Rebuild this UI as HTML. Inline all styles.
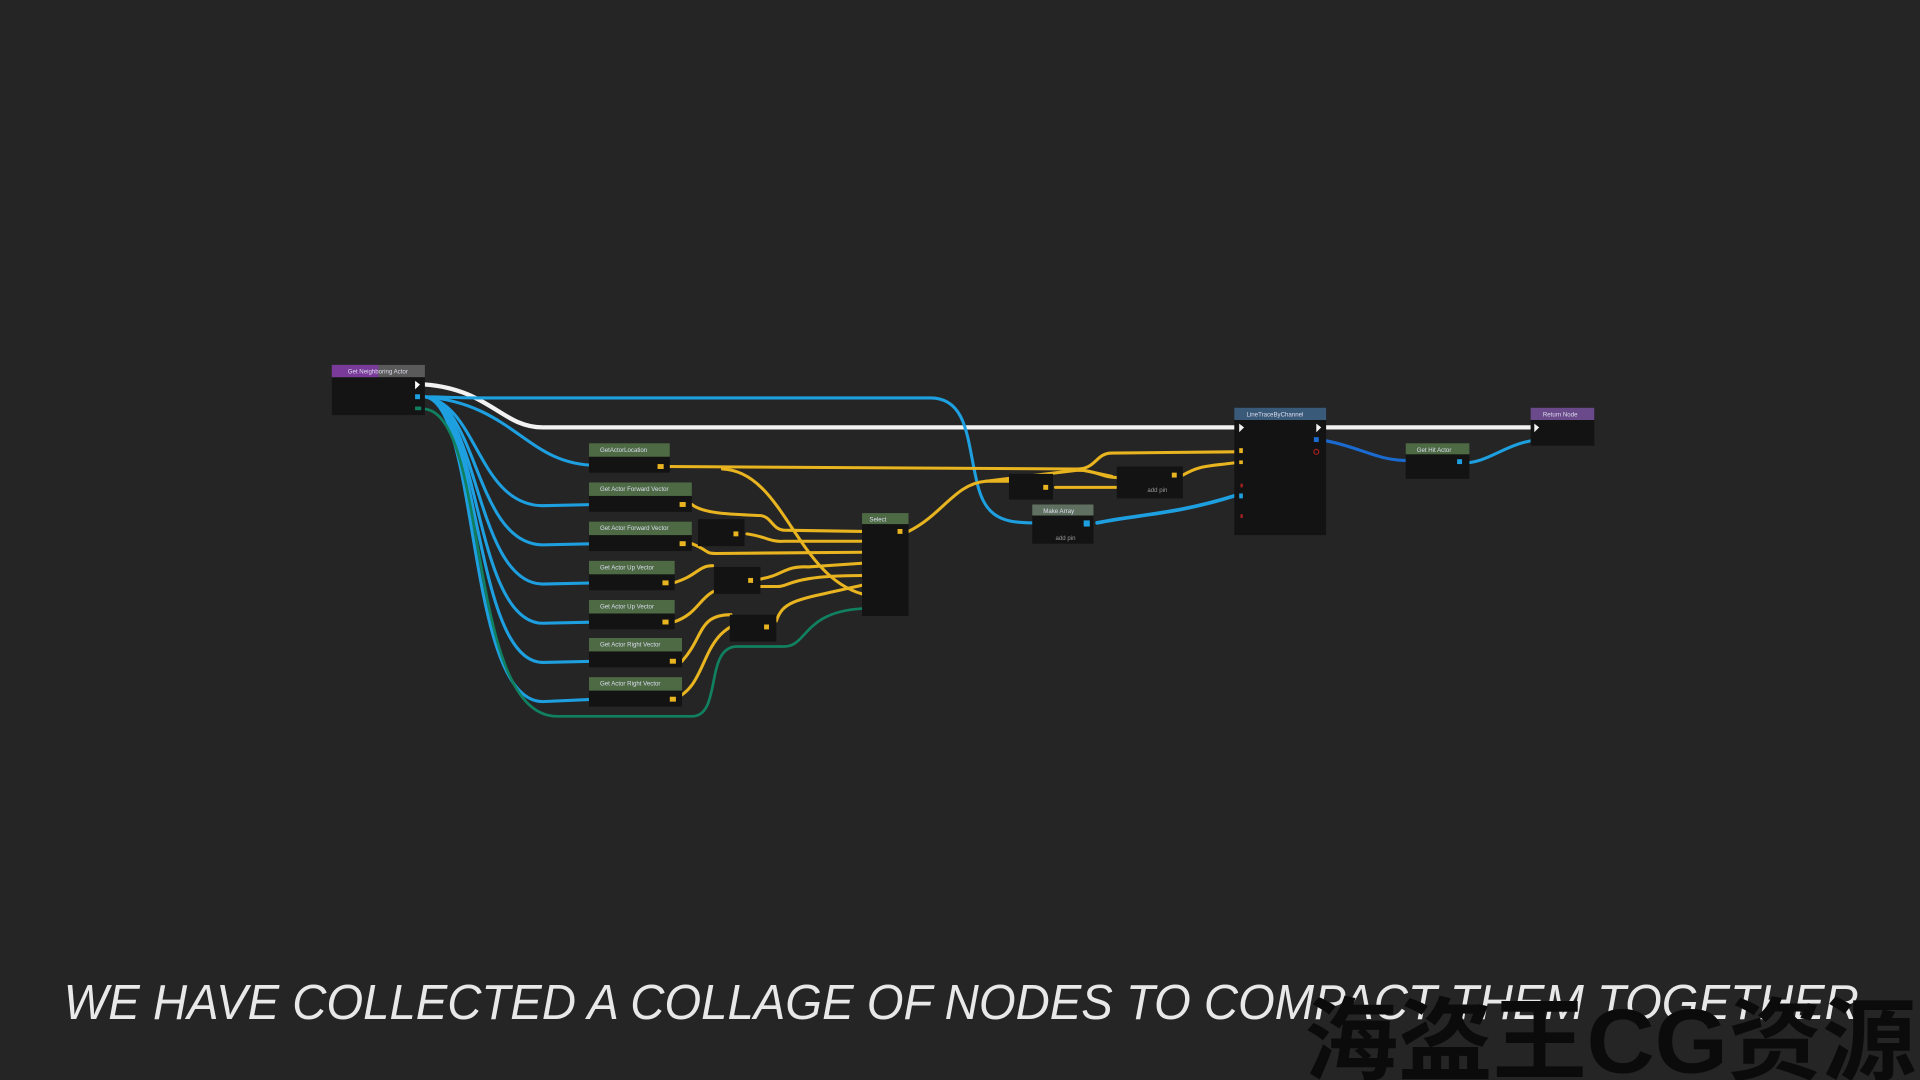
<!DOCTYPE html>
<html><head><meta charset="utf-8"><style>
html,body{margin:0;padding:0;background:#252525;width:1920px;height:1080px;overflow:hidden}
svg{display:block}
</style></head><body>
<svg width="1920" height="1080" viewBox="0 0 1568 882" xmlns="http://www.w3.org/2000/svg" font-family="Liberation Sans, sans-serif">
<rect width="1568" height="882" fill="#252525"/>
<g fill="none" stroke-linecap="round">
<!-- exec -->
<path d="M347 314 C400 318 410 349 443 349 L1008 349" stroke="#f2f2f2" stroke-width="3.5"/>
<path d="M1083 349 L1250 349" stroke="#f2f2f2" stroke-width="3.5"/>
<!-- blue top -->
<path d="M347 324 C360 324 370 325 390 325 L760 325 C790 325 790 360 797 390 C803 420 815 427 843 427" stroke="#1ea0e0" stroke-width="2.5"/>
<g stroke="#1ea0e0" stroke-width="2.5">
<path d="M347 324 C420 330 430 380 487 380"/>
<path d="M347 324 C390 330 390 412 443 413 L487 412"/>
<path d="M347 324 C390 330 388 444 443 445 L487 444"/>
<path d="M347 324 C390 330 388 476 443 477 L487 476"/>
<path d="M347 324 C392 330 386 508 443 509 L487 508"/>
<path d="M347 324 C392 330 386 540 443 541 L487 540"/>
<path d="M347 324 C392 330 380 572 443 573 L487 571"/>
<path d="M896 427 C930 420 960 420 1008 405" stroke-width="3"/>
<path d="M1256 359 C1230 362 1215 378 1196 378"/>
</g>
<path d="M1083 360 C1110 365 1125 376 1148 376" stroke="#1a6ad0" stroke-width="2.5"/>
<!-- teal -->
<path d="M347 334 C400 340 380 585 455 585 L565 585 C590 585 575 528 602 528 L640 528 C660 528 655 500 704 497" stroke="#118060" stroke-width="2.2"/>
<!-- yellow -->
<g stroke="#e8b420" stroke-width="2.5">
<path d="M545 381 L880 383 C895 383 895 370 908 370 L1008 369"/>
<path d="M590 383 C640 385 650 470 704 485"/>
<path d="M565 412 C575 420 600 420 620 421 C630 421 630 432 640 433 L704 434"/>
<path d="M610 436 C625 438 630 443 640 442 L704 442"/>
<path d="M565 444 C580 450 575 452 585 452 L704 451"/>
<path d="M550 476 C570 470 570 462 582 462"/>
<path d="M620 473 C640 470 640 462 660 463 L704 460"/>
<path d="M550 508 C575 500 570 480 600 479 L635 479 C645 479 645 470 704 470"/>
<path d="M557 540 C575 520 570 502 597 502"/>
<path d="M550 571 C580 560 570 515 610 507 L634 507 C640 490 650 490 704 478"/>
<path d="M742 434 C770 420 780 395 805 393 L824 393"/>
<path d="M805 393 L880 384 C895 384 900 390 912 390"/>
<path d="M862 398 L912 398"/>
<path d="M966 388 C980 380 985 381 1008 378"/>
<path d="M880 383 L908 389"/>
</g>
</g>
<!-- nodes -->
<g>
<rect x="271" y="298" width="76" height="41" fill="#141414"/>
<rect x="271" y="298" width="76" height="10" fill="#5a5a5a"/>
<rect x="271" y="298" width="38" height="10" fill="#7a3a9a"/>
<polygon points="339,311 343,314 339,318" fill="#fff"/>
<rect x="339" y="322" width="4" height="4" fill="#1ea0e0"/>
<rect x="339" y="332" width="5" height="3" fill="#118060"/>
</g>
<g fill="#131313">
<rect x="481" y="362" width="66" height="24"/><rect x="481" y="394" width="84" height="24"/>
<rect x="481" y="426" width="84" height="24"/><rect x="481" y="458" width="70" height="24"/>
<rect x="481" y="490" width="70" height="24"/><rect x="481" y="521" width="76" height="24"/>
<rect x="481" y="553" width="76" height="24"/>
<rect x="570" y="424" width="38" height="22"/><rect x="583" y="463" width="38" height="22"/>
<rect x="596" y="502" width="38" height="22"/>
<rect x="704" y="419" width="38" height="84"/>
<rect x="824" y="387" width="36" height="21"/><rect x="912" y="381" width="54" height="26"/>
<rect x="843" y="412" width="50" height="32"/>
<rect x="1008" y="333" width="75" height="104"/>
<rect x="1148" y="362" width="52" height="29"/>
<rect x="1250" y="333" width="52" height="31"/>
</g>
<g fill="#4d6a45">
<rect x="481" y="362" width="66" height="11"/><rect x="481" y="394" width="84" height="11"/>
<rect x="481" y="426" width="84" height="11"/><rect x="481" y="458" width="70" height="11"/>
<rect x="481" y="490" width="70" height="11"/><rect x="481" y="521" width="76" height="11"/>
<rect x="481" y="553" width="76" height="11"/>
<rect x="704" y="419" width="38" height="9"/><rect x="1148" y="362" width="52" height="9"/>
</g>
<rect x="843" y="412" width="50" height="9" fill="#607060"/>
<rect x="1008" y="333" width="75" height="10" fill="#3a5a7a"/>
<rect x="1250" y="333" width="52" height="10" fill="#6a4a8a"/>
<g font-size="5" fill="#dde">
<text x="284" y="305">Get Neighboring Actor</text>
<text x="490" y="369">GetActorLocation</text><text x="490" y="401">Get Actor Forward Vector</text>
<text x="490" y="433">Get Actor Forward Vector</text><text x="490" y="465">Get Actor Up Vector</text>
<text x="490" y="497">Get Actor Up Vector</text><text x="490" y="528">Get Actor Right Vector</text>
<text x="490" y="560">Get Actor Right Vector</text><text x="710" y="426">Select</text>
<text x="852" y="419">Make Array</text><text x="1018" y="340">LineTraceByChannel</text>
<text x="1157" y="369">Get Hit Actor</text><text x="1260" y="340">Return Node</text>
<text x="937" y="402" fill="#999">add pin</text><text x="862" y="441" fill="#999">add pin</text>
</g>
<g fill="#f2f2f2">
<polygon points="1012,346 1016,349 1012,353"/><polygon points="1075,346 1079,349 1075,353"/>
<polygon points="1253,346 1257,349 1253,353"/>
</g>
<g fill="#e8b420">
<rect x="537" y="379" width="5" height="4"/><rect x="555" y="410" width="5" height="4"/>
<rect x="555" y="442" width="5" height="4"/><rect x="541" y="474" width="5" height="4"/>
<rect x="541" y="506" width="5" height="4"/><rect x="547" y="538" width="5" height="4"/>
<rect x="547" y="569" width="5" height="4"/><rect x="733" y="432" width="4" height="4"/>
<rect x="599" y="434" width="4" height="4"/><rect x="611" y="472" width="4" height="4"/>
<rect x="624" y="510" width="4" height="4"/><rect x="852" y="396" width="4" height="4"/>
<rect x="957" y="386" width="4" height="4"/><rect x="1012" y="366" width="3" height="4"/>
<rect x="1012" y="376" width="3" height="3"/>
</g>
<rect x="885" y="425" width="5" height="5" fill="#1ea0e0"/>
<rect x="1190" y="375" width="4" height="4" fill="#1ea0e0"/>
<rect x="1073" y="357" width="4" height="4" fill="#1a6ad0"/>
<circle cx="1075" cy="369" r="2" fill="none" stroke="#a02020"/>
<g fill="#a02020"><rect x="1013" y="395" width="2" height="3"/><rect x="1013" y="420" width="2" height="3"/></g>
<rect x="1012" y="403" width="3" height="4" fill="#1ea0e0"/>
<text x="52" y="832" font-size="40.5" font-style="italic" fill="#e8e8e8" textLength="1466" lengthAdjust="spacingAndGlyphs" font-weight="300">WE HAVE COLLECTED A COLLAGE OF NODES TO COMPACT THEM TOGETHER</text>
<text x="1065" y="876" font-size="74" font-weight="bold" fill="#0b0b0b" textLength="500" lengthAdjust="spacingAndGlyphs" font-family="Liberation Sans, Noto Sans CJK SC, sans-serif">海盗王CG资源</text>
</svg>
</body></html>
